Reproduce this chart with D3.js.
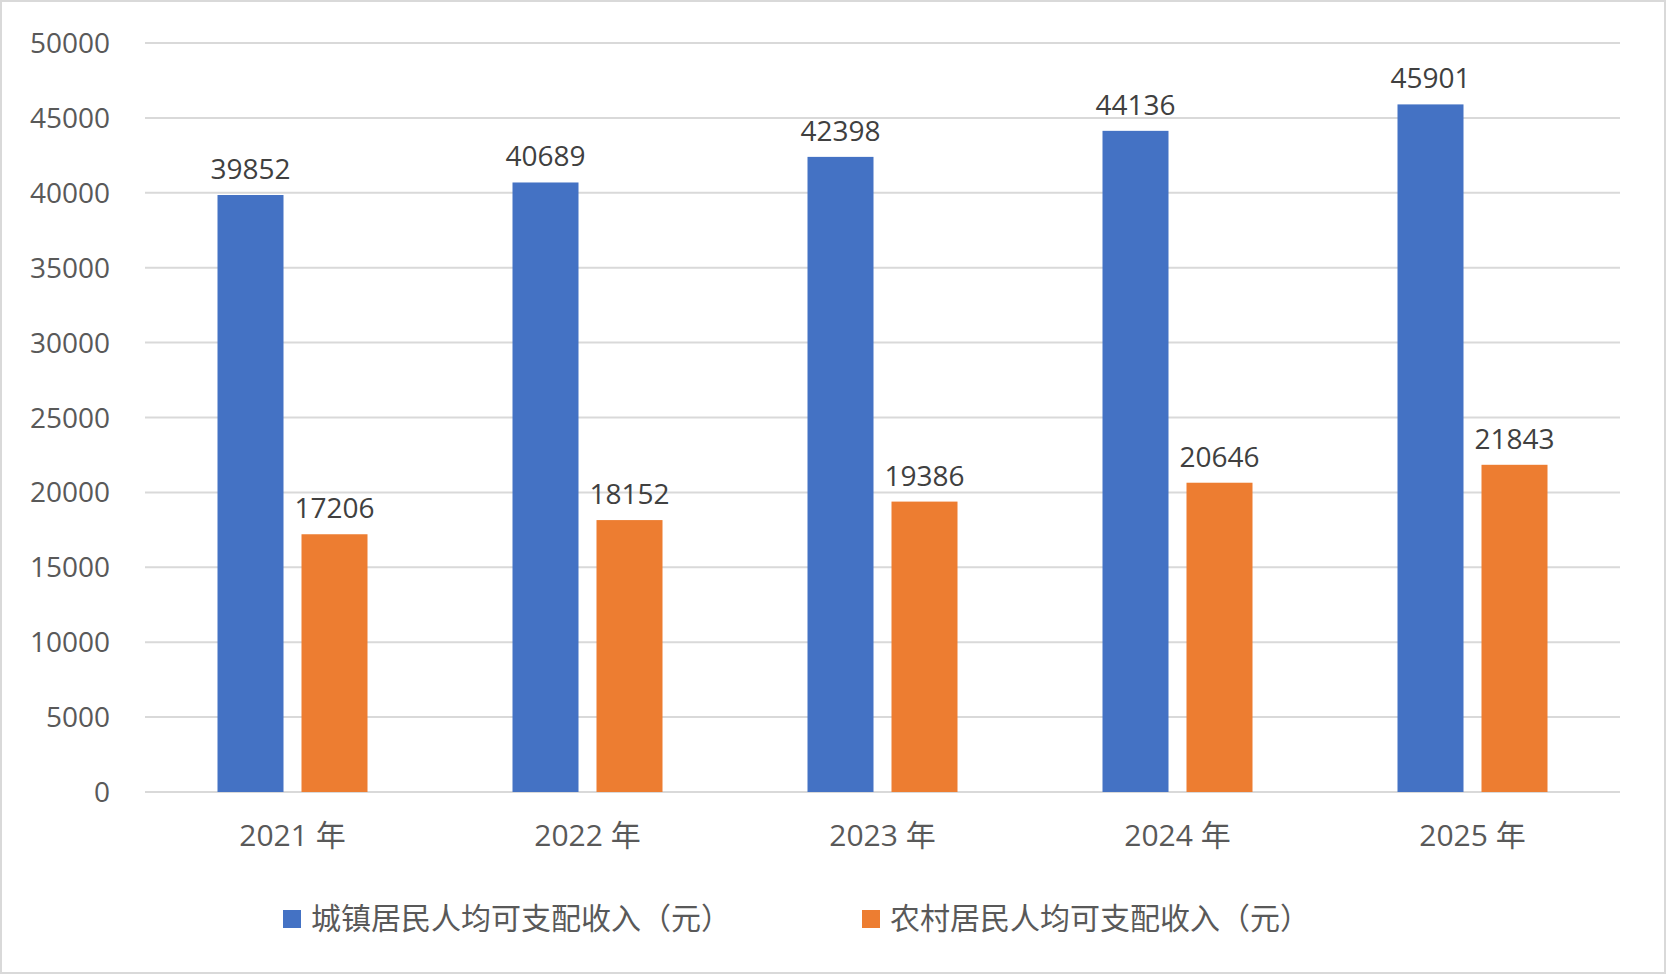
<!DOCTYPE html>
<html><head><meta charset="utf-8">
<script src="https://cdn.jsdelivr.net/npm/d3@7"></script>
<style>body{margin:0;background:#fff}text{font-family:"Open Sans","Noto Sans CJK SC",sans-serif}</style>
</head><body><svg id="c" width="1668" height="978"></svg>
<script>
const years = ["2021 年", "2022 年", "2023 年", "2024 年", "2025 年"];
const urban = [39852, 40689, 42398, 44136, 45901];
const rural = [17206, 18152, 19386, 20646, 21843];
const seriesNames = ["城镇居民人均可支配收入（元）", "农村居民人均可支配收入（元）"];
const colors = ["#4472c4", "#ed7d31"];
const yTicks = d3.range(0, 50001, 5000);

const svg = d3.select("#c");
svg.append("rect").attr("x", 1).attr("y", 1).attr("width", 1664).attr("height", 972)
  .attr("fill", "#fff").attr("stroke", "#d9d9d9").attr("stroke-width", 2);

const x = d3.scaleBand().domain(years).range([145, 1620]);
const y = d3.scaleLinear().domain([0, 50000]).range([792, 43]);
const bw = 66, gap = 9;

svg.append("g").selectAll("line").data(yTicks).join("line")
  .attr("x1", 145).attr("x2", 1620).attr("y1", d => y(d)).attr("y2", d => y(d))
  .attr("stroke", "#d9d9d9").attr("stroke-width", 2);

svg.append("g").selectAll("text").data(yTicks).join("text")
  .attr("x", 110).attr("y", d => y(d) + 10).attr("text-anchor", "end")
  .attr("font-size", 28).attr("fill", "#595959").text(d => d);

[urban, rural].forEach((vals, s) => {
  const off = s === 0 ? -gap - bw : gap;
  const g = svg.append("g");
  g.selectAll("rect").data(vals).join("rect")
    .attr("x", (d, i) => x(years[i]) + x.bandwidth() / 2 + off)
    .attr("y", d => y(d)).attr("width", bw).attr("height", d => y(0) - y(d))
    .attr("fill", colors[s]);
  g.selectAll("text").data(vals).join("text")
    .attr("x", (d, i) => x(years[i]) + x.bandwidth() / 2 + off + bw / 2)
    .attr("y", d => y(d) - 16).attr("text-anchor", "middle")
    .attr("font-size", 28).attr("fill", "#404040").text(d => d);
});

svg.append("g").selectAll("text").data(years).join("text")
  .attr("x", d => x(d) + x.bandwidth() / 2).attr("y", 846).attr("text-anchor", "middle")
  .attr("font-size", 30).attr("fill", "#595959").text(d => d);

const legX = [283, 862];
seriesNames.forEach((n, i) => {
  svg.append("rect").attr("x", legX[i]).attr("y", 910).attr("width", 18).attr("height", 18).attr("fill", colors[i]);
  svg.append("text").attr("x", legX[i] + 28).attr("y", 929).attr("font-size", 30)
    .attr("fill", "#595959").text(n);
});
</script></body></html>
